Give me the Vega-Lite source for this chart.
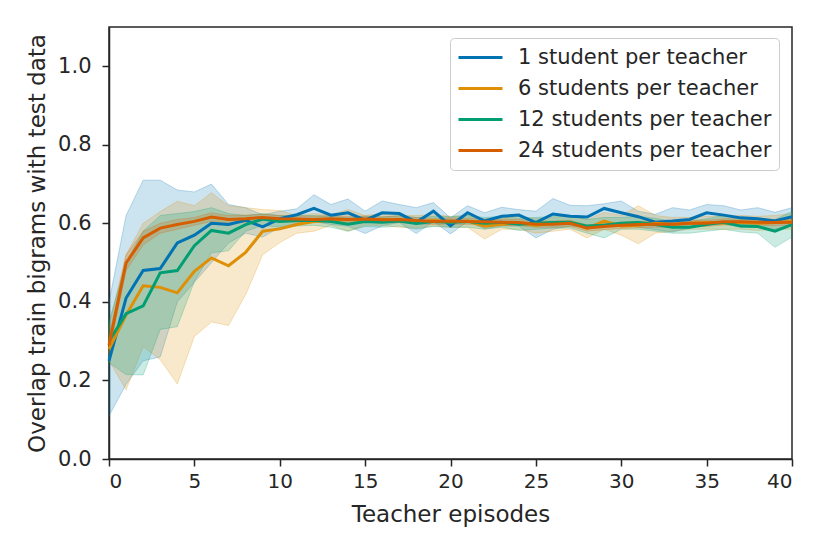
{
  "$schema": "https://vega.github.io/schema/vega-lite/v6.json",
  "width": 683,
  "height": 432,
  "autosize": "none",
  "padding": {"left": 109, "top": 27, "right": 38, "bottom": 95},
  "background": "white",
  "data": {
    "values": [
      {"ep": 0, "group": "1 student per teacher", "m": 0.25, "lo": 0.11, "hi": 0.40},
      {"ep": 1, "group": "1 student per teacher", "m": 0.41, "lo": 0.19, "hi": 0.62},
      {"ep": 2, "group": "1 student per teacher", "m": 0.48, "lo": 0.25, "hi": 0.71},
      {"ep": 3, "group": "1 student per teacher", "m": 0.485, "lo": 0.26, "hi": 0.71},
      {"ep": 4, "group": "1 student per teacher", "m": 0.55, "lo": 0.40, "hi": 0.685},
      {"ep": 5, "group": "1 student per teacher", "m": 0.57, "lo": 0.45, "hi": 0.68},
      {"ep": 6, "group": "1 student per teacher", "m": 0.60, "lo": 0.50, "hi": 0.70},
      {"ep": 7, "group": "1 student per teacher", "m": 0.597, "lo": 0.55, "hi": 0.648},
      {"ep": 8, "group": "1 student per teacher", "m": 0.608, "lo": 0.575, "hi": 0.64},
      {"ep": 9, "group": "1 student per teacher", "m": 0.591, "lo": 0.565, "hi": 0.622},
      {"ep": 10, "group": "1 student per teacher", "m": 0.612, "lo": 0.59, "hi": 0.631},
      {"ep": 11, "group": "1 student per teacher", "m": 0.622, "lo": 0.60, "hi": 0.637},
      {"ep": 12, "group": "1 student per teacher", "m": 0.638, "lo": 0.605, "hi": 0.673},
      {"ep": 13, "group": "1 student per teacher", "m": 0.621, "lo": 0.597, "hi": 0.648},
      {"ep": 14, "group": "1 student per teacher", "m": 0.627, "lo": 0.593, "hi": 0.662},
      {"ep": 15, "group": "1 student per teacher", "m": 0.608, "lo": 0.574, "hi": 0.631},
      {"ep": 16, "group": "1 student per teacher", "m": 0.627, "lo": 0.594, "hi": 0.657},
      {"ep": 17, "group": "1 student per teacher", "m": 0.625, "lo": 0.602, "hi": 0.648},
      {"ep": 18, "group": "1 student per teacher", "m": 0.603, "lo": 0.574, "hi": 0.64},
      {"ep": 19, "group": "1 student per teacher", "m": 0.631, "lo": 0.605, "hi": 0.653},
      {"ep": 20, "group": "1 student per teacher", "m": 0.594, "lo": 0.573, "hi": 0.614},
      {"ep": 21, "group": "1 student per teacher", "m": 0.627, "lo": 0.605, "hi": 0.645},
      {"ep": 22, "group": "1 student per teacher", "m": 0.606, "lo": 0.586, "hi": 0.627},
      {"ep": 23, "group": "1 student per teacher", "m": 0.618, "lo": 0.593, "hi": 0.641},
      {"ep": 24, "group": "1 student per teacher", "m": 0.621, "lo": 0.593, "hi": 0.635},
      {"ep": 25, "group": "1 student per teacher", "m": 0.602, "lo": 0.563, "hi": 0.631},
      {"ep": 26, "group": "1 student per teacher", "m": 0.624, "lo": 0.585, "hi": 0.663},
      {"ep": 27, "group": "1 student per teacher", "m": 0.618, "lo": 0.593, "hi": 0.646},
      {"ep": 28, "group": "1 student per teacher", "m": 0.616, "lo": 0.59, "hi": 0.645},
      {"ep": 29, "group": "1 student per teacher", "m": 0.638, "lo": 0.60, "hi": 0.65},
      {"ep": 30, "group": "1 student per teacher", "m": 0.627, "lo": 0.598, "hi": 0.657},
      {"ep": 31, "group": "1 student per teacher", "m": 0.617, "lo": 0.59, "hi": 0.631},
      {"ep": 32, "group": "1 student per teacher", "m": 0.603, "lo": 0.584, "hi": 0.623},
      {"ep": 33, "group": "1 student per teacher", "m": 0.606, "lo": 0.578, "hi": 0.64},
      {"ep": 34, "group": "1 student per teacher", "m": 0.61, "lo": 0.588, "hi": 0.634},
      {"ep": 35, "group": "1 student per teacher", "m": 0.627, "lo": 0.605, "hi": 0.648},
      {"ep": 36, "group": "1 student per teacher", "m": 0.621, "lo": 0.598, "hi": 0.645},
      {"ep": 37, "group": "1 student per teacher", "m": 0.614, "lo": 0.59, "hi": 0.634},
      {"ep": 38, "group": "1 student per teacher", "m": 0.612, "lo": 0.59, "hi": 0.64},
      {"ep": 39, "group": "1 student per teacher", "m": 0.606, "lo": 0.585, "hi": 0.628},
      {"ep": 40, "group": "1 student per teacher", "m": 0.617, "lo": 0.595, "hi": 0.64},

      {"ep": 0, "group": "6 students per teacher", "m": 0.28, "lo": 0.25, "hi": 0.34},
      {"ep": 1, "group": "6 students per teacher", "m": 0.367, "lo": 0.176, "hi": 0.52},
      {"ep": 2, "group": "6 students per teacher", "m": 0.441, "lo": 0.286, "hi": 0.60},
      {"ep": 3, "group": "6 students per teacher", "m": 0.437, "lo": 0.253, "hi": 0.63},
      {"ep": 4, "group": "6 students per teacher", "m": 0.423, "lo": 0.191, "hi": 0.656},
      {"ep": 5, "group": "6 students per teacher", "m": 0.478, "lo": 0.312, "hi": 0.645},
      {"ep": 6, "group": "6 students per teacher", "m": 0.512, "lo": 0.349, "hi": 0.678},
      {"ep": 7, "group": "6 students per teacher", "m": 0.492, "lo": 0.34, "hi": 0.645},
      {"ep": 8, "group": "6 students per teacher", "m": 0.526, "lo": 0.418, "hi": 0.64},
      {"ep": 9, "group": "6 students per teacher", "m": 0.58, "lo": 0.52, "hi": 0.635},
      {"ep": 10, "group": "6 students per teacher", "m": 0.586, "lo": 0.551, "hi": 0.633},
      {"ep": 11, "group": "6 students per teacher", "m": 0.597, "lo": 0.575, "hi": 0.62},
      {"ep": 12, "group": "6 students per teacher", "m": 0.605, "lo": 0.58, "hi": 0.625},
      {"ep": 13, "group": "6 students per teacher", "m": 0.607, "lo": 0.595, "hi": 0.622},
      {"ep": 14, "group": "6 students per teacher", "m": 0.61, "lo": 0.58, "hi": 0.635},
      {"ep": 15, "group": "6 students per teacher", "m": 0.607, "lo": 0.595, "hi": 0.62},
      {"ep": 16, "group": "6 students per teacher", "m": 0.61, "lo": 0.595, "hi": 0.625},
      {"ep": 17, "group": "6 students per teacher", "m": 0.606, "lo": 0.59, "hi": 0.62},
      {"ep": 18, "group": "6 students per teacher", "m": 0.603, "lo": 0.588, "hi": 0.62},
      {"ep": 19, "group": "6 students per teacher", "m": 0.607, "lo": 0.593, "hi": 0.622},
      {"ep": 20, "group": "6 students per teacher", "m": 0.603, "lo": 0.59, "hi": 0.618},
      {"ep": 21, "group": "6 students per teacher", "m": 0.606, "lo": 0.59, "hi": 0.62},
      {"ep": 22, "group": "6 students per teacher", "m": 0.593, "lo": 0.56, "hi": 0.61},
      {"ep": 23, "group": "6 students per teacher", "m": 0.598, "lo": 0.585, "hi": 0.615},
      {"ep": 24, "group": "6 students per teacher", "m": 0.60, "lo": 0.585, "hi": 0.618},
      {"ep": 25, "group": "6 students per teacher", "m": 0.595, "lo": 0.575, "hi": 0.612},
      {"ep": 26, "group": "6 students per teacher", "m": 0.60, "lo": 0.58, "hi": 0.615},
      {"ep": 27, "group": "6 students per teacher", "m": 0.603, "lo": 0.585, "hi": 0.62},
      {"ep": 28, "group": "6 students per teacher", "m": 0.587, "lo": 0.563, "hi": 0.61},
      {"ep": 29, "group": "6 students per teacher", "m": 0.606, "lo": 0.585, "hi": 0.628},
      {"ep": 30, "group": "6 students per teacher", "m": 0.593, "lo": 0.57, "hi": 0.62},
      {"ep": 31, "group": "6 students per teacher", "m": 0.595, "lo": 0.548, "hi": 0.645},
      {"ep": 32, "group": "6 students per teacher", "m": 0.60, "lo": 0.575, "hi": 0.62},
      {"ep": 33, "group": "6 students per teacher", "m": 0.598, "lo": 0.58, "hi": 0.615},
      {"ep": 34, "group": "6 students per teacher", "m": 0.60, "lo": 0.585, "hi": 0.615},
      {"ep": 35, "group": "6 students per teacher", "m": 0.602, "lo": 0.585, "hi": 0.618},
      {"ep": 36, "group": "6 students per teacher", "m": 0.60, "lo": 0.585, "hi": 0.618},
      {"ep": 37, "group": "6 students per teacher", "m": 0.603, "lo": 0.585, "hi": 0.62},
      {"ep": 38, "group": "6 students per teacher", "m": 0.60, "lo": 0.582, "hi": 0.618},
      {"ep": 39, "group": "6 students per teacher", "m": 0.602, "lo": 0.585, "hi": 0.62},
      {"ep": 40, "group": "6 students per teacher", "m": 0.605, "lo": 0.585, "hi": 0.625},

      {"ep": 0, "group": "12 students per teacher", "m": 0.30, "lo": 0.245, "hi": 0.35},
      {"ep": 1, "group": "12 students per teacher", "m": 0.37, "lo": 0.215, "hi": 0.50},
      {"ep": 2, "group": "12 students per teacher", "m": 0.39, "lo": 0.214, "hi": 0.58},
      {"ep": 3, "group": "12 students per teacher", "m": 0.474, "lo": 0.33, "hi": 0.62},
      {"ep": 4, "group": "12 students per teacher", "m": 0.48, "lo": 0.337, "hi": 0.625},
      {"ep": 5, "group": "12 students per teacher", "m": 0.543, "lo": 0.452, "hi": 0.63},
      {"ep": 6, "group": "12 students per teacher", "m": 0.582, "lo": 0.525, "hi": 0.64},
      {"ep": 7, "group": "12 students per teacher", "m": 0.575, "lo": 0.53, "hi": 0.625},
      {"ep": 8, "group": "12 students per teacher", "m": 0.597, "lo": 0.58, "hi": 0.62},
      {"ep": 9, "group": "12 students per teacher", "m": 0.611, "lo": 0.595, "hi": 0.625},
      {"ep": 10, "group": "12 students per teacher", "m": 0.605, "lo": 0.59, "hi": 0.62},
      {"ep": 11, "group": "12 students per teacher", "m": 0.607, "lo": 0.593, "hi": 0.62},
      {"ep": 12, "group": "12 students per teacher", "m": 0.608, "lo": 0.595, "hi": 0.62},
      {"ep": 13, "group": "12 students per teacher", "m": 0.605, "lo": 0.59, "hi": 0.618},
      {"ep": 14, "group": "12 students per teacher", "m": 0.598, "lo": 0.58, "hi": 0.615},
      {"ep": 15, "group": "12 students per teacher", "m": 0.605, "lo": 0.592, "hi": 0.618},
      {"ep": 16, "group": "12 students per teacher", "m": 0.603, "lo": 0.59, "hi": 0.616},
      {"ep": 17, "group": "12 students per teacher", "m": 0.606, "lo": 0.593, "hi": 0.62},
      {"ep": 18, "group": "12 students per teacher", "m": 0.60, "lo": 0.585, "hi": 0.615},
      {"ep": 19, "group": "12 students per teacher", "m": 0.605, "lo": 0.592, "hi": 0.618},
      {"ep": 20, "group": "12 students per teacher", "m": 0.603, "lo": 0.59, "hi": 0.617},
      {"ep": 21, "group": "12 students per teacher", "m": 0.605, "lo": 0.59, "hi": 0.62},
      {"ep": 22, "group": "12 students per teacher", "m": 0.60, "lo": 0.585, "hi": 0.615},
      {"ep": 23, "group": "12 students per teacher", "m": 0.603, "lo": 0.59, "hi": 0.618},
      {"ep": 24, "group": "12 students per teacher", "m": 0.598, "lo": 0.582, "hi": 0.613},
      {"ep": 25, "group": "12 students per teacher", "m": 0.60, "lo": 0.585, "hi": 0.615},
      {"ep": 26, "group": "12 students per teacher", "m": 0.602, "lo": 0.588, "hi": 0.618},
      {"ep": 27, "group": "12 students per teacher", "m": 0.603, "lo": 0.588, "hi": 0.62},
      {"ep": 28, "group": "12 students per teacher", "m": 0.593, "lo": 0.575, "hi": 0.61},
      {"ep": 29, "group": "12 students per teacher", "m": 0.595, "lo": 0.563, "hi": 0.615},
      {"ep": 30, "group": "12 students per teacher", "m": 0.60, "lo": 0.585, "hi": 0.615},
      {"ep": 31, "group": "12 students per teacher", "m": 0.602, "lo": 0.585, "hi": 0.618},
      {"ep": 32, "group": "12 students per teacher", "m": 0.597, "lo": 0.58, "hi": 0.613},
      {"ep": 33, "group": "12 students per teacher", "m": 0.59, "lo": 0.575, "hi": 0.605},
      {"ep": 34, "group": "12 students per teacher", "m": 0.59, "lo": 0.575, "hi": 0.605},
      {"ep": 35, "group": "12 students per teacher", "m": 0.597, "lo": 0.58, "hi": 0.612},
      {"ep": 36, "group": "12 students per teacher", "m": 0.603, "lo": 0.585, "hi": 0.62},
      {"ep": 37, "group": "12 students per teacher", "m": 0.593, "lo": 0.578, "hi": 0.61},
      {"ep": 38, "group": "12 students per teacher", "m": 0.592, "lo": 0.575, "hi": 0.61},
      {"ep": 39, "group": "12 students per teacher", "m": 0.58, "lo": 0.539, "hi": 0.61},
      {"ep": 40, "group": "12 students per teacher", "m": 0.597, "lo": 0.565, "hi": 0.63},

      {"ep": 0, "group": "24 students per teacher", "m": 0.29, "lo": 0.27, "hi": 0.31},
      {"ep": 1, "group": "24 students per teacher", "m": 0.499, "lo": 0.48, "hi": 0.52},
      {"ep": 2, "group": "24 students per teacher", "m": 0.563, "lo": 0.545, "hi": 0.58},
      {"ep": 3, "group": "24 students per teacher", "m": 0.588, "lo": 0.575, "hi": 0.60},
      {"ep": 4, "group": "24 students per teacher", "m": 0.597, "lo": 0.585, "hi": 0.61},
      {"ep": 5, "group": "24 students per teacher", "m": 0.605, "lo": 0.595, "hi": 0.615},
      {"ep": 6, "group": "24 students per teacher", "m": 0.616, "lo": 0.605, "hi": 0.627},
      {"ep": 7, "group": "24 students per teacher", "m": 0.61, "lo": 0.60, "hi": 0.62},
      {"ep": 8, "group": "24 students per teacher", "m": 0.612, "lo": 0.603, "hi": 0.621},
      {"ep": 9, "group": "24 students per teacher", "m": 0.615, "lo": 0.607, "hi": 0.623},
      {"ep": 10, "group": "24 students per teacher", "m": 0.612, "lo": 0.604, "hi": 0.62},
      {"ep": 11, "group": "24 students per teacher", "m": 0.611, "lo": 0.603, "hi": 0.619},
      {"ep": 12, "group": "24 students per teacher", "m": 0.61, "lo": 0.602, "hi": 0.618},
      {"ep": 13, "group": "24 students per teacher", "m": 0.612, "lo": 0.604, "hi": 0.62},
      {"ep": 14, "group": "24 students per teacher", "m": 0.61, "lo": 0.602, "hi": 0.618},
      {"ep": 15, "group": "24 students per teacher", "m": 0.611, "lo": 0.603, "hi": 0.619},
      {"ep": 16, "group": "24 students per teacher", "m": 0.609, "lo": 0.601, "hi": 0.617},
      {"ep": 17, "group": "24 students per teacher", "m": 0.61, "lo": 0.602, "hi": 0.618},
      {"ep": 18, "group": "24 students per teacher", "m": 0.607, "lo": 0.599, "hi": 0.615},
      {"ep": 19, "group": "24 students per teacher", "m": 0.605, "lo": 0.597, "hi": 0.613},
      {"ep": 20, "group": "24 students per teacher", "m": 0.606, "lo": 0.598, "hi": 0.614},
      {"ep": 21, "group": "24 students per teacher", "m": 0.605, "lo": 0.597, "hi": 0.613},
      {"ep": 22, "group": "24 students per teacher", "m": 0.604, "lo": 0.596, "hi": 0.612},
      {"ep": 23, "group": "24 students per teacher", "m": 0.603, "lo": 0.595, "hi": 0.611},
      {"ep": 24, "group": "24 students per teacher", "m": 0.602, "lo": 0.594, "hi": 0.61},
      {"ep": 25, "group": "24 students per teacher", "m": 0.598, "lo": 0.59, "hi": 0.606},
      {"ep": 26, "group": "24 students per teacher", "m": 0.598, "lo": 0.59, "hi": 0.606},
      {"ep": 27, "group": "24 students per teacher", "m": 0.60, "lo": 0.592, "hi": 0.608},
      {"ep": 28, "group": "24 students per teacher", "m": 0.588, "lo": 0.58, "hi": 0.596},
      {"ep": 29, "group": "24 students per teacher", "m": 0.592, "lo": 0.584, "hi": 0.60},
      {"ep": 30, "group": "24 students per teacher", "m": 0.595, "lo": 0.587, "hi": 0.603},
      {"ep": 31, "group": "24 students per teacher", "m": 0.597, "lo": 0.589, "hi": 0.605},
      {"ep": 32, "group": "24 students per teacher", "m": 0.598, "lo": 0.59, "hi": 0.606},
      {"ep": 33, "group": "24 students per teacher", "m": 0.598, "lo": 0.59, "hi": 0.606},
      {"ep": 34, "group": "24 students per teacher", "m": 0.60, "lo": 0.592, "hi": 0.608},
      {"ep": 35, "group": "24 students per teacher", "m": 0.60, "lo": 0.592, "hi": 0.608},
      {"ep": 36, "group": "24 students per teacher", "m": 0.604, "lo": 0.596, "hi": 0.612},
      {"ep": 37, "group": "24 students per teacher", "m": 0.604, "lo": 0.596, "hi": 0.612},
      {"ep": 38, "group": "24 students per teacher", "m": 0.603, "lo": 0.595, "hi": 0.611},
      {"ep": 39, "group": "24 students per teacher", "m": 0.602, "lo": 0.594, "hi": 0.61},
      {"ep": 40, "group": "24 students per teacher", "m": 0.603, "lo": 0.595, "hi": 0.611}
    ]
  },
  "encoding": {
    "x": {
      "field": "ep",
      "type": "quantitative",
      "scale": {"domain": [0, 40], "nice": false, "zero": false},
      "axis": {
        "title": "Teacher episodes",
        "values": [0, 5, 10, 15, 20, 25, 30, 35, 40],
        "labelFontSize": 20,
        "titleFontSize": 23,
        "labelPadding": 5,
        "titlePadding": 12
      }
    },
    "color": {
      "field": "group",
      "type": "nominal",
      "scale": {
        "domain": ["1 student per teacher", "6 students per teacher", "12 students per teacher", "24 students per teacher"],
        "range": ["#0173b2", "#de8f05", "#029e73", "#d55e00"]
      },
      "legend": {
        "title": null,
        "orient": "none",
        "legendX": 341,
        "legendY": 11,
        "symbolType": "stroke",
        "symbolSize": 1936,
        "symbolStrokeWidth": 2.8,
        "symbolOpacity": 1,
        "clipHeight": 25,
        "rowPadding": 6,
        "labelOffset": 14,
        "labelFontSize": 21,
        "labelLimit": 400,
        "labelColor": "#262626",
        "padding": 7,
        "fillColor": "white",
        "strokeColor": "#cccccc",
        "cornerRadius": 4
      }
    }
  },
  "layer": [
    {
      "mark": {"type": "area", "fillOpacity": 0.2, "strokeOpacity": 0.25, "strokeWidth": 1},
      "encoding": {
        "y": {
          "field": "lo",
          "type": "quantitative",
          "scale": {"domain": [0, 1.1], "nice": false},
          "axis": {
            "title": "Overlap train bigrams with test data",
            "values": [0, 0.2, 0.4, 0.6, 0.8, 1.0],
            "format": ".1f",
            "labelFontSize": 21,
            "titleFontSize": 23,
            "labelPadding": 11,
            "titlePadding": 8
          }
        },
        "y2": {"field": "hi"},
        "stroke": {
          "field": "group",
          "type": "nominal",
          "scale": {
            "domain": ["1 student per teacher", "6 students per teacher", "12 students per teacher", "24 students per teacher"],
            "range": ["#0173b2", "#de8f05", "#029e73", "#d55e00"]
          },
          "legend": null
        }
      }
    },
    {
      "mark": {"type": "line", "strokeWidth": 3},
      "encoding": {
        "y": {
          "field": "m",
          "type": "quantitative",
          "scale": {"domain": [0, 1.1], "nice": false},
          "axis": {
            "title": "Overlap train bigrams with test data",
            "values": [0, 0.2, 0.4, 0.6, 0.8, 1.0],
            "format": ".1f",
            "labelFontSize": 21,
            "titleFontSize": 23,
            "labelPadding": 11,
            "titlePadding": 8
          }
        }
      }
    }
  ],
  "config": {
    "font": "DejaVu Sans",
    "view": {"stroke": "#262626", "strokeWidth": 1.5},
    "axis": {
      "grid": false,
      "domainColor": "#262626",
      "domainWidth": 1.5,
      "tickColor": "#262626",
      "tickWidth": 1.5,
      "tickSize": 7,
      "labelColor": "#262626",
      "titleColor": "#262626",
      "labelFont": "DejaVu Sans",
      "titleFont": "DejaVu Sans",
      "titleFontWeight": "normal"
    },
    "legend": {"labelFont": "DejaVu Sans"}
  }
}
